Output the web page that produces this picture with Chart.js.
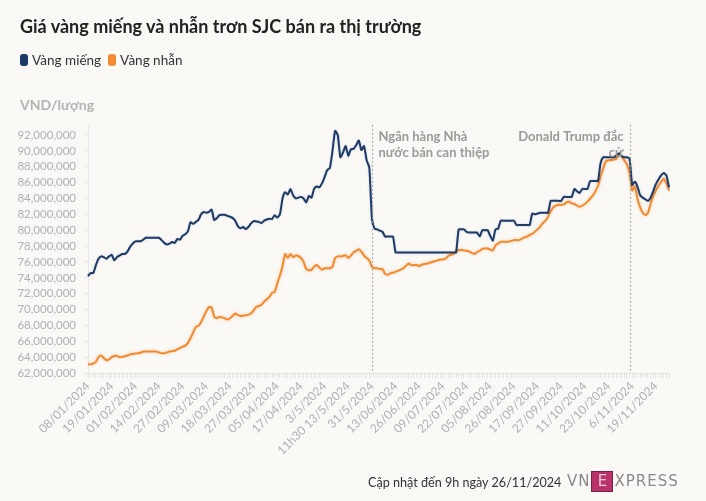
<!DOCTYPE html>
<html>
<head>
<meta charset="utf-8">
<script src="https://cdn.jsdelivr.net/npm/chart.js@4.4.1/dist/chart.umd.min.js"></script>
<style>
  html, body { margin:0; padding:0; }
  body { width:706px; height:501px; background:#faf9f6; position:relative; overflow:hidden; font-family:'Lato', 'Noto Sans', sans-serif; }
  #c { position:absolute; left:0; top:0; }
  .title { position:absolute; left:20px; top:15px; font-size:18px; font-weight:700; color:#222; white-space:nowrap; }
  .legend { position:absolute; left:20px; top:52px; font-size:13.5px; color:#333; white-space:nowrap; }
  .legend span.sw { display:inline-block; width:8px; height:12px; border-radius:3px; vertical-align:-1px; margin-right:4px; }
  .unit { position:absolute; left:20px; top:96px; font-size:14px; font-weight:700; color:#b3b3b3; }
  .footer { position:absolute; left:368px; top:475px; font-size:12.6px; color:#333; white-space:nowrap; }
  .logo { position:absolute; left:567px; top:471px; font-size:15px; letter-spacing:1px; color:#8a8a8a; font-family:'DejaVu Sans', sans-serif; white-space:nowrap; }
  .logo .e { display:inline-block; width:20px; height:19px; line-height:19px; text-align:center; background:#b8336a; color:#f3c6d6; border:1px solid #7a1d45; margin:0 1px; letter-spacing:0; }
</style>
</head>
<body>
<canvas id="c" width="706" height="501"></canvas>
<div class="title">Giá vàng miếng và nhẫn trơn SJC bán ra thị trường</div>
<div class="legend"><span class="sw" style="background:#1e3a66"></span>Vàng miếng&nbsp;&nbsp;<span class="sw" style="background:#f28a30"></span>Vàng nhẫn</div>
<div class="unit">VND/lượng</div>
<div class="footer">Cập nhật đến 9h ngày 26/11/2024</div>
<div class="logo">VN<span class="e">E</span>XPRESS</div>
<script>
// Tick labels shown along the x axis (one every POINTS_PER_LABEL data points)
const tickLabels = ["08/01/2024","19/01/2024","01/02/2024","14/02/2024","27/02/2024","09/03/2024","18/03/2024","27/03/2024","05/04/2024","17/04/2024","3/5/2024","11h30 13/5/2024","31/5/2024","13/06/2024","26/06/2024","09/07/2024","22/07/2024","05/08/2024","26/08/2024","17/09/2024","27/09/2024","11/10/2024","23/10/2024","6/11/2024","19/11/2024"];
const POINTS_PER_LABEL = 9;

// Vàng miếng (million VND / lượng)
const vangMieng = [
74.2,74.6,74.6,75.6,76.4,76.7,76.6,76.4,76.7,76.9,
76.2,76.6,76.8,77.0,77.0,77.3,77.9,78.3,78.6,78.6,
78.6,78.8,79.05,79.05,79.05,79.05,79.05,79.05,78.75,78.4,
78.2,78.3,78.5,78.4,78.9,78.8,79.3,79.5,79.85,81.0,
80.8,81.05,81.3,82.0,82.3,82.2,82.3,82.6,81.3,81.5,
81.9,81.95,81.95,81.8,81.7,81.55,81.2,80.5,80.25,80.4,
80.15,80.4,80.85,81.15,81.1,81.05,80.9,81.2,81.35,81.45,
81.4,81.9,81.6,82.0,84.0,84.8,84.5,85.2,84.4,84.0,
84.1,84.2,84.0,83.5,84.3,84.1,85.2,85.5,85.4,85.9,
86.7,87.6,87.85,90.0,92.5,92.0,89.2,89.8,90.6,89.4,
90.2,90.25,90.7,91.3,90.1,90.6,88.8,87.9,81.5,80.2,
80.1,79.95,79.8,79.2,79.2,79.2,79.2,77.2,77.2,77.2,
77.2,77.2,77.2,77.2,77.2,77.2,77.2,77.2,77.2,77.2,
77.2,77.2,77.2,77.2,77.2,77.2,77.2,77.2,77.2,77.2,
77.2,80.1,80.1,80.1,79.8,79.7,79.7,79.7,79.7,79.2,
80.0,80.0,80.0,79.3,78.7,80.1,80.2,81.2,81.2,81.2,
81.2,81.2,81.2,80.65,80.65,80.65,80.65,80.65,80.65,82.1,
82.0,82.1,82.2,82.2,82.2,82.2,83.7,83.7,83.7,83.7,
83.7,84.2,84.2,84.2,84.2,85.2,84.9,84.7,85.2,85.2,
85.2,86.2,86.2,86.2,86.2,88.5,89.2,89.2,89.2,89.2,
89.2,89.4,89.7,89.3,89.2,89.2,89.0,85.7,86.1,85.5,
84.4,84.1,83.9,83.7,84.1,84.9,85.8,86.4,86.9,87.2,
86.9,85.4
];

// Vàng nhẫn (million VND / lượng)
const vangNhan = [
63.1,63.1,63.2,63.4,64.0,64.2,63.9,63.6,63.7,64.0,
64.15,64.15,64.0,64.05,64.1,64.2,64.35,64.4,64.45,64.5,
64.55,64.7,64.7,64.7,64.7,64.7,64.7,64.6,64.5,64.5,
64.6,64.7,64.75,64.8,65.0,65.15,65.3,65.45,65.8,66.4,
67.1,67.8,67.95,68.4,69.1,69.8,70.3,70.3,69.1,68.9,
69.1,69.0,68.9,68.75,68.9,69.2,69.5,69.3,69.2,69.25,
69.25,69.35,69.5,69.9,70.35,70.45,70.6,71.0,71.3,71.6,
72.1,72.2,73.3,74.3,75.5,77.0,76.5,77.0,76.6,76.8,
76.75,76.5,76.0,75.1,74.95,75.0,75.4,75.6,75.3,75.0,
75.2,75.2,75.2,75.4,76.5,76.7,76.7,76.75,76.85,76.5,
76.8,77.2,77.4,77.6,77.3,76.8,76.5,76.2,75.4,75.2,
75.2,75.1,75.1,74.5,74.4,74.55,74.65,74.75,74.9,75.05,
75.2,75.55,75.8,75.6,75.6,75.6,75.5,75.65,75.75,75.8,
75.9,76.0,76.1,76.2,76.3,76.3,76.4,76.75,76.9,77.0,
77.3,77.5,77.5,77.45,77.4,77.3,77.15,77.0,77.25,77.4,
77.65,77.7,77.7,77.55,77.45,78.1,78.3,78.55,78.55,78.55,
78.55,78.65,78.75,78.75,78.75,78.9,79.1,79.2,79.4,79.55,
79.8,80.1,80.45,80.9,81.2,81.7,82.4,82.9,83.1,83.2,
83.2,83.25,83.5,83.6,83.4,83.3,83.1,82.95,83.1,83.3,
83.6,84.0,84.35,84.9,85.6,86.8,87.8,88.7,88.8,88.85,
88.9,89.0,89.5,89.3,88.8,88.3,87.2,85.0,85.5,84.0,
82.9,82.2,81.9,82.2,83.3,84.3,85.0,85.6,86.1,86.5,
85.9,85.0
];

// Event annotations (data-point index of the dotted line)
const events = [
  { index:108, lines:["Ngân hàng Nhà","nước bán can thiệp"], side:"right" },
  { index:206, lines:["Donald Trump đắc","cử"], side:"left" }
];

const categories = vangMieng.map((_, i) => i % POINTS_PER_LABEL === 0 ? (tickLabels[i / POINTS_PER_LABEL] || '') : '');

const FONT = "'Lato', 'Noto Sans', sans-serif";

const glowPlugin = {
  id:'glow',
  beforeDatasetDraw(chart, args) {
    const ctx = chart.ctx; ctx.save();
    if (args.index === 1) { ctx.shadowColor = 'rgba(242,138,48,0.45)'; ctx.shadowBlur = 3; }
    else { ctx.shadowColor = 'rgba(30,58,102,0.25)'; ctx.shadowBlur = 2; }
  },
  afterDatasetDraw(chart) { chart.ctx.restore(); }
};

const eventPlugin = {
  id:'events',
  afterDatasetsDraw(chart) {
    const { ctx, chartArea, scales:{x} } = chart;
    events.forEach(ev => {
      const px = Math.round(x.getPixelForValue(ev.index)) + 0.5;
      ctx.save();
      ctx.strokeStyle = '#9a9a9a'; ctx.lineWidth = 1.2; ctx.setLineDash([1.5, 2.5]);
      ctx.beginPath(); ctx.moveTo(px, chartArea.top); ctx.lineTo(px, chartArea.bottom); ctx.stroke();
      ctx.setLineDash([]);
      ctx.fillStyle = '#9a9a9a';
      ctx.font = "bold 13px " + FONT;
      ctx.textBaseline = 'middle';
      ctx.textAlign = ev.side === 'right' ? 'left' : 'right';
      const tx = ev.side === 'right' ? px + 6 : px - 7;
      ev.lines.forEach((t, k) => ctx.fillText(t, tx, chartArea.top + 12 + k * 16));
      ctx.restore();
    });
  }
};

new Chart(document.getElementById('c'), {
  type:'line',
  data:{
    labels: categories,
    datasets:[
      { label:'Vàng miếng', data:vangMieng, borderColor:'#1e3a66', backgroundColor:'#1e3a66', borderWidth:2, pointRadius:0, tension:0.2, fill:false },
      { label:'Vàng nhẫn', data:vangNhan, borderColor:'#f28a30', backgroundColor:'#f28a30', borderWidth:2, pointRadius:0, tension:0.2, fill:false }
    ]
  },
  options:{
    responsive:false, animation:false, devicePixelRatio:1,
    layout:{ padding:{ top:125, left:0, right:37, bottom:0 } },
    plugins:{ legend:{display:false}, tooltip:{enabled:false} },
    scales:{
      x:{
        type:'category', offset:false,
        grid:{ display:true, drawOnChartArea:false, drawTicks:true, tickLength:5, color:'#e2e2e2' },
        border:{ display:true, color:'#e2e2e2' },
        ticks:{ autoSkip:false, maxRotation:45, minRotation:45, color:'#b0b0b0', padding:1,
          font:{ family:FONT, size:12 },
          callback:(v, i) => categories[i] },
        afterFit(s){ s.height = 128; }
      },
      y:{
        min:62, max:93.26,
        grid:{ display:true, drawOnChartArea:false, drawTicks:true, tickLength:4, color:'#e8e8e8' },
        border:{ display:true, color:'#e8e8e8' },
        ticks:{ stepSize:2, autoSkip:false, includeBounds:false, color:'#b0b0b0', padding:8,
          font:{ family:FONT, size:11.5 },
          callback:(v) => (v * 1e6).toLocaleString('en-US') },
        afterFit(s){ s.width = 88; }
      }
    }
  },
  plugins:[glowPlugin, eventPlugin]
});
</script>
</body>
</html>
